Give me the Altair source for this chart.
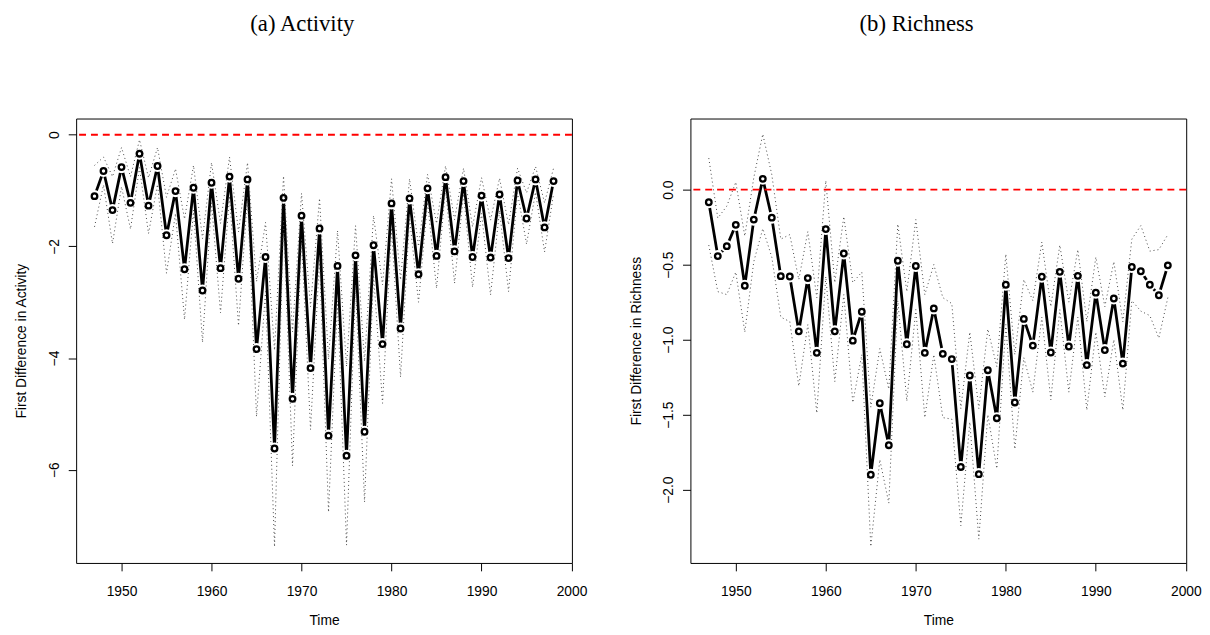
import altair as alt
import pandas as pd

years = list(range(1947, 1999))

activity = [-1.10, -0.65, -1.35, -0.58, -1.22, -0.34, -1.27, -0.56, -1.80, -1.01,
            -2.41, -0.95, -2.79, -0.86, -2.39, -0.75, -2.58, -0.80, -3.84, -2.19,
            -5.62, -1.13, -4.73, -1.45, -4.18, -1.68, -5.39, -2.35, -5.75, -2.16,
            -5.32, -1.98, -3.75, -1.23, -3.47, -1.14, -2.50, -0.96, -2.17, -0.76,
            -2.09, -0.83, -2.19, -1.09, -2.20, -1.07, -2.21, -0.82, -1.50, -0.80,
            -1.66, -0.83]
activity_upper = [-0.55, -0.40, -0.75, -0.23, -0.75, -0.09, -0.77, -0.23, -1.12, -0.61,
                  -1.51, -0.55, -1.86, -0.50, -1.59, -0.40, -1.74, -0.50, -2.63, -1.57,
                  -3.86, -0.74, -3.53, -1.05, -3.08, -1.14, -4.02, -1.72, -4.15, -1.63,
                  -4.06, -1.45, -2.69, -0.79, -2.60, -0.79, -2.00, -0.71, -1.59, -0.56,
                  -1.52, -0.60, -1.65, -0.77, -1.53, -0.78, -1.61, -0.60, -1.04, -0.57,
                  -1.22, -0.60]
activity_lower = [-1.65, -0.90, -1.95, -0.93, -1.69, -0.59, -1.77, -0.89, -2.48, -1.41,
                  -3.31, -1.35, -3.72, -1.22, -3.19, -1.10, -3.42, -1.10, -5.05, -2.81,
                  -7.38, -1.52, -5.93, -1.85, -5.28, -2.22, -6.76, -2.98, -7.35, -2.69,
                  -6.58, -2.51, -4.81, -1.67, -4.34, -1.49, -3.00, -1.21, -2.75, -0.96,
                  -2.66, -1.06, -2.73, -1.41, -2.87, -1.36, -2.81, -1.04, -1.96, -1.03,
                  -2.10, -1.06]

richness = [-0.084, -0.443, -0.377, -0.235, -0.641, -0.200, 0.072, -0.187, -0.577, -0.579,
            -0.945, -0.590, -1.088, -0.263, -0.945, -0.426, -1.007, -0.814, -1.901, -1.424,
            -1.704, -0.474, -1.031, -0.509, -1.088, -0.792, -1.095, -1.130, -1.849, -1.239,
            -1.897, -1.204, -1.524, -0.634, -1.419, -0.862, -1.040, -0.581, -1.086, -0.548,
            -1.046, -0.575, -1.170, -0.687, -1.070, -0.726, -1.160, -0.516, -0.544, -0.634,
            -0.704, -0.505]
richness_upper = [0.21, -0.19, -0.11, 0.05, -0.31, 0.08, 0.37, 0.10, -0.33, -0.30,
                  -0.60, -0.28, -0.72, 0.06, -0.62, -0.18, -0.62, -0.55, -1.45, -1.06,
                  -1.33, -0.23, -0.68, -0.20, -0.70, -0.50, -0.72, -0.76, -1.46, -0.95,
                  -1.46, -0.93, -1.18, -0.43, -1.10, -0.60, -0.74, -0.35, -0.78, -0.37,
                  -0.75, -0.40, -0.88, -0.45, -0.78, -0.48, -0.88, -0.33, -0.24, -0.41,
                  -0.40, -0.30]
richness_lower = [-0.37, -0.68, -0.70, -0.55, -0.95, -0.48, -0.26, -0.45, -0.85, -0.88,
                  -1.31, -0.90, -1.49, -0.58, -1.28, -0.70, -1.42, -1.10, -2.38, -1.80,
                  -2.09, -0.74, -1.41, -0.80, -1.52, -1.10, -1.52, -1.53, -2.24, -1.55,
                  -2.33, -1.50, -1.86, -0.90, -1.73, -1.12, -1.35, -0.85, -1.40, -0.80,
                  -1.35, -0.85, -1.47, -0.95, -1.38, -1.00, -1.47, -0.74, -0.81, -0.84,
                  -0.99, -0.72]

x_ticks = [1950, 1960, 1970, 1980, 1990, 2000]
activity_ticks = [0, -2, -4, -6]
richness_ticks = [0.0, -0.5, -1.0, -1.5, -2.0]

SANS = "Liberation Sans"
SERIF = "Liberation Serif"


def panel(values, upper, lower, title, ytitle, ydomain, yticks, yfmt):
    df = pd.DataFrame({"year": years, "value": values, "upper": upper, "lower": lower})
    xscale = alt.Scale(domain=[1944.96, 2000.04], nice=False, zero=False)
    yscale = alt.Scale(domain=ydomain, nice=False, zero=False)
    xaxis = alt.Axis(values=x_ticks, format="d", title="Time", grid=False, domain=False,
                     tickColor="black", tickSize=8, tickWidth=1, labelPadding=14,
                     titlePadding=15, labelFlush=False, labelFont=SANS, labelFontSize=14,
                     titleFont=SANS, titleFontSize=14, titleFontWeight="normal",
                     labelColor="black", titleColor="black")
    yaxis = alt.Axis(values=yticks, format=yfmt,
                     labelExpr="replace(datum.label, '-', '\u2212')",
                     title=ytitle, grid=False, domain=False, tickColor="black",
                     tickSize=8, tickWidth=1, labelAngle=270, labelAlign="center",
                     labelBaseline="bottom", labelPadding=7, titlePadding=19,
                     labelFlush=False, labelFont=SANS, labelFontSize=14,
                     titleFont=SANS, titleFontSize=14, titleFontWeight="normal",
                     labelColor="black", titleColor="black")
    x = alt.X("year:Q", scale=xscale, axis=xaxis)

    def y(field):
        return alt.Y(field, type="quantitative", scale=yscale, axis=yaxis)

    base = alt.Chart(df)
    line = base.mark_line(color="black", strokeWidth=2.8).encode(x=x, y=y("value"))
    gaps = base.mark_point(shape="circle", filled=True, color="white", opacity=1,
                           strokeWidth=0, size=150).encode(x=x, y=y("value"))
    up = base.mark_line(color="#444444", strokeWidth=1, strokeDash=[1, 3]).encode(
        x=x, y=y("upper"))
    lo = base.mark_line(color="#444444", strokeWidth=1, strokeDash=[1, 3]).encode(
        x=x, y=y("lower"))
    zero = alt.Chart(pd.DataFrame({"value": [0.0]})).mark_rule(
        color="red", strokeWidth=2, strokeDash=[7, 5]).encode(y=y("value"))
    pts = base.mark_point(shape="circle", filled=False, color="black", opacity=1,
                          strokeWidth=2.3, size=32).encode(x=x, y=y("value"))
    return alt.layer(line, gaps, up, lo, zero, pts).properties(
        width=502, height=450,
        title=alt.TitleParams(text=title, font=SERIF, fontSize=23, fontWeight="normal",
                              color="black", anchor="middle", frame="group", dx=-22,
                              offset=66, baseline="alphabetic"))


left = panel(activity, activity_upper, activity_lower, "(a) Activity",
             "First Difference in Activity", [-7.67, 0.29], activity_ticks, "d")
right = panel(richness, richness_upper, richness_lower, "(b) Richness",
              "First Difference in Richness", [-2.489, 0.474], richness_ticks, ".1f")

chart = alt.hconcat(left, right, spacing=41).properties(
    padding={"left": 6, "top": 0, "right": 0, "bottom": 0},
    background="white",
).configure_view(stroke="black", strokeWidth=1)

chart.save("out.html", embed_options={"renderer": "svg", "actions": False})
